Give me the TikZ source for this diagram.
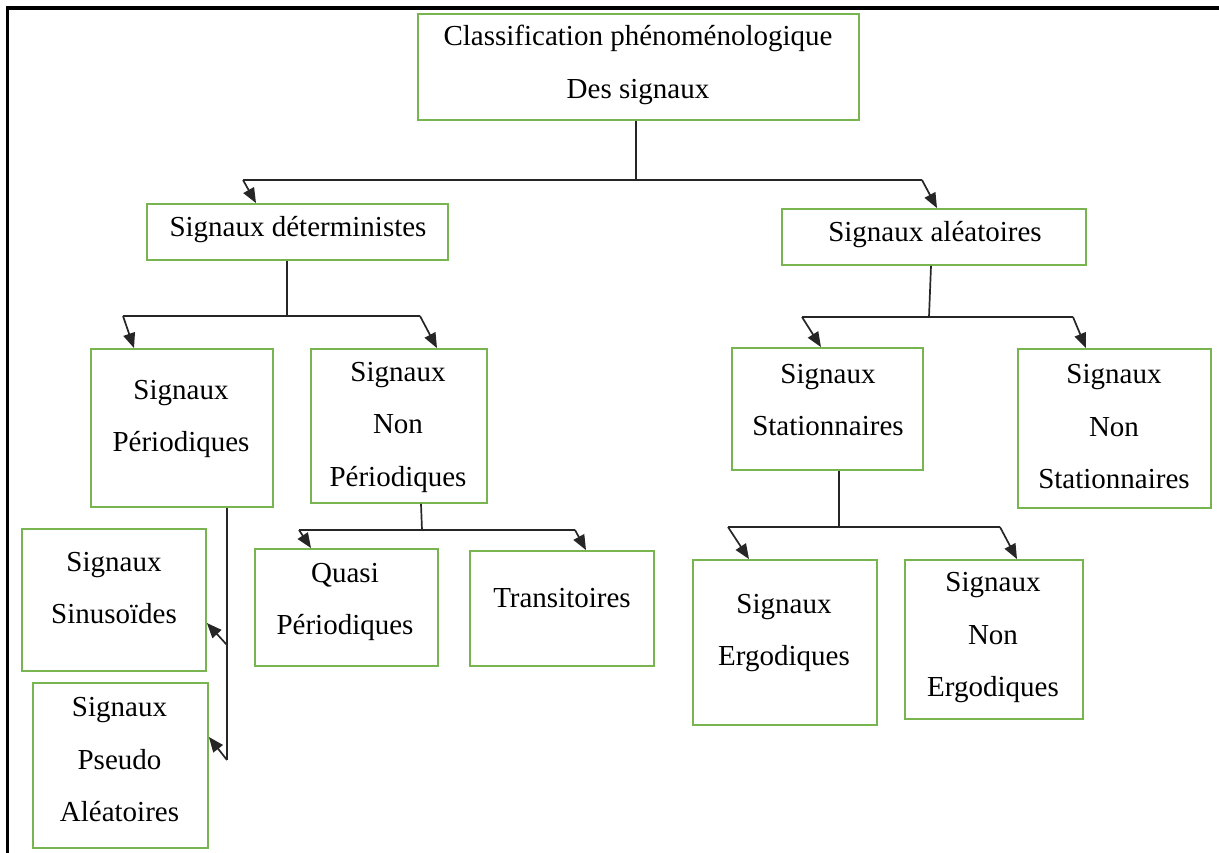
\documentclass[tikz,border=0pt]{standalone}
\usepackage{fontspec}
\setmainfont{Liberation Serif}
\usetikzlibrary{arrows.meta}
\definecolor{boxgreen}{RGB}{120,180,80}
\begin{document}
\begin{tikzpicture}[x=1pt,y=-1pt,
  box/.style={draw=boxgreen, line width=1.8pt, inner sep=0pt},
  txt/.style={align=center, font=\fontsize{29}{52.5}\selectfont, inner sep=0pt},
  conn/.style={line width=1.7pt, draw=black!85},
  arr/.style={conn, -{Triangle[length=15pt,width=12pt]}},
  frameline/.style={line width=3.5pt, line cap=rect}]
\useasboundingbox (0,0) rectangle (1219,852);

% frame
\draw[frameline] (7.5,852) -- (7.5,8) -- (1219,8);

% boxes
\node[box, minimum width=441pt, minimum height=106pt] (top) at (638.5,67) {};
\node[box, minimum width=301pt, minimum height=56pt] (det) at (297.5,232) {};
\node[box, minimum width=304pt, minimum height=56pt] (alea) at (934,237) {};
\node[box, minimum width=182pt, minimum height=158pt] (per) at (182,428) {};
\node[box, minimum width=176pt, minimum height=154pt] (nper) at (399,426) {};
\node[box, minimum width=191pt, minimum height=122pt] (stat) at (827.5,409) {};
\node[box, minimum width=193pt, minimum height=159pt] (nstat) at (1114.5,428.5) {};
\node[box, minimum width=184pt, minimum height=142pt] (sin) at (114,600) {};
\node[box, minimum width=175pt, minimum height=165pt] (pseudo) at (120.5,765.5) {};
\node[box, minimum width=183pt, minimum height=117pt] (quasi) at (346.5,607.5) {};
\node[box, minimum width=184pt, minimum height=115pt] (trans) at (562,608.5) {};
\node[box, minimum width=184pt, minimum height=165pt] (erg) at (785,642.5) {};
\node[box, minimum width=178pt, minimum height=159pt] (nerg) at (994,639.5) {};

% texts
\node[txt] (top-t) at (638,65) {Classification phénoménologique\\Des signaux};
\node[txt] (det-t) at (298,230) {Signaux déterministes};
\node[txt] (alea-t) at (935,235) {Signaux aléatoires};
\node[txt] (per-t) at (181,419) {Signaux\\Périodiques};
\node[txt] (nper-t) at (398,427) {Signaux\\Non\\Périodiques};
\node[txt] (stat-t) at (828,400) {Signaux\\Stationnaires};
\node[txt] (nstat-t) at (1114,427) {Signaux\\Non\\Stationnaires};
\node[txt] (sin-t) at (114,588) {Signaux\\Sinusoïdes};
\node[txt] (pseudo-t) at (119.5,760) {Signaux\\Pseudo\\Aléatoires};
\node[txt] (quasi-t) at (345,602) {Quasi\\Périodiques};
\node[txt] (trans-t) at (562,598) {Transitoires};
\node[txt] (erg-t) at (784,633) {Signaux\\Ergodiques};
\node[txt] (nerg-t) at (993,638) {Signaux\\Non\\Ergodiques};

% junction coordinates
\coordinate (j1) at (636,180);
\coordinate (j1l) at (243,180);
\coordinate (j1r) at (922,180);
\coordinate (j2) at (287,316);
\coordinate (j2l) at (123,316);
\coordinate (j2r) at (420,316);
\coordinate (j3) at (929,317);
\coordinate (j3l) at (802,317);
\coordinate (j3r) at (1073,317);
\coordinate (j4) at (422,530);
\coordinate (j4l) at (299,530);
\coordinate (j4r) at (575,530);
\coordinate (j5) at (839,527);
\coordinate (j5l) at (728,527);
\coordinate (j5r) at (1000,527);
\coordinate (j6a) at (227,645);
\coordinate (j6b) at (227,760);

% level 1
\draw[conn] (j1 |- top.south) -- (j1);
\draw[conn] (j1l) -- (j1r);
\draw[arr] (j1l) -- ([xshift=13pt]j1l |- det.north);
\draw[arr] (j1r) -- ([xshift=15pt]j1r |- alea.north);

% deterministes
\draw[conn] (j2 |- det.south) -- (j2);
\draw[conn] (j2l) -- (j2r);
\draw[arr] (j2l) -- ([xshift=11pt]j2l |- per.north);
\draw[arr] (j2r) -- ([xshift=17pt]j2r |- nper.north);

% aleatoires
\draw[conn] ([xshift=2pt]j3 |- alea.south) -- (j3);
\draw[conn] (j3l) -- (j3r);
\draw[arr] (j3l) -- ([xshift=19pt]j3l |- stat.north);
\draw[arr] (j3r) -- ([xshift=13pt]j3r |- nstat.north);

% non periodiques
\draw[conn] ([xshift=-1pt]j4 |- nper.south) -- (j4);
\draw[conn] (j4l) -- (j4r);
\draw[arr] (j4l) -- ([xshift=12pt]j4l |- quasi.north);
\draw[arr] (j4r) -- ([xshift=11pt]j4r |- trans.north);

% stationnaires
\draw[conn] (j5 |- stat.south) -- (j5);
\draw[conn] (j5l) -- (j5r);
\draw[arr] (j5l) -- ([xshift=21pt]j5l |- erg.north);
\draw[arr] (j5r) -- ([xshift=17pt]j5r |- nerg.north);

% periodiques
\draw[conn] (j6b |- per.south) -- (j6b);
\draw[arr] (j6a) -- ([yshift=22pt]j6a -| sin.east);
\draw[arr] (j6b) -- ([yshift=23pt]j6b -| pseudo.east);
\end{tikzpicture}
\end{document}
